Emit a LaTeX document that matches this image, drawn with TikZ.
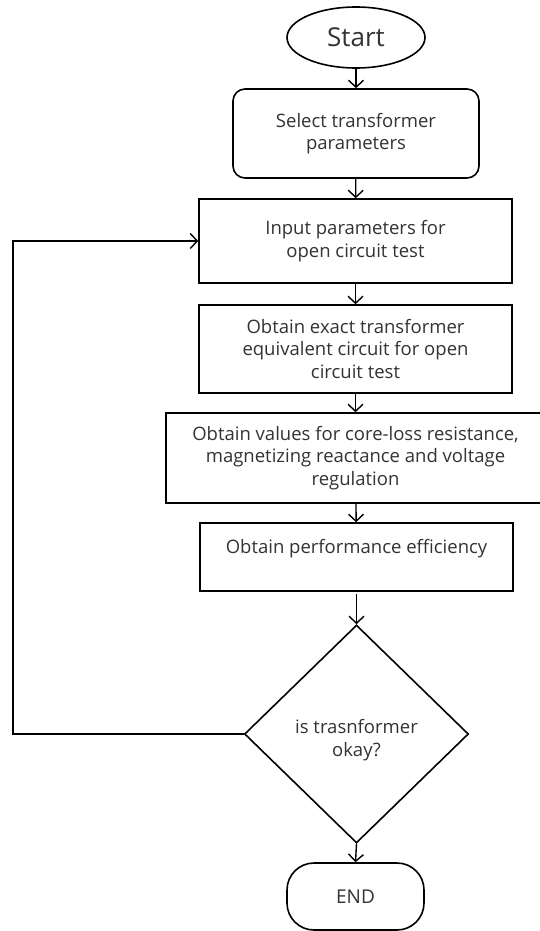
\documentclass[tikz,border=0pt]{standalone}
\usepackage{fontspec}
\setmainfont{Open Sans}
\usetikzlibrary{arrows.meta,shapes.geometric}
\definecolor{txtgray}{HTML}{333333}
\tikzset{
  base/.style={draw=black, line width=1.6pt, text=txtgray, align=center, inner sep=0pt, font=\fontsize{18.5}{22.5}\selectfont},
  procbox/.style={base, rectangle},
  roundbox/.style={base, rectangle, rounded corners=12pt},
  termbox/.style={base, rectangle, rounded corners=27pt},
  startell/.style={base, ellipse},
  decision/.style={base, diamond},
  plain/.style={text=txtgray, align=center, inner sep=0pt, font=\fontsize{18.5}{22.5}\selectfont},
  flow/.style={draw=black, line width=1.4pt, -{Straight Barb[length=7pt,width=15pt,line width=1.4pt]}}
}
\begin{document}
\begin{tikzpicture}[x=1pt,y=1pt]
\useasboundingbox (0,0) rectangle (539,-931);
\fill[white] (0,0) rectangle (539,-931);
\node[startell, minimum width=138pt, minimum height=61pt, font=\fontsize{26}{30}\selectfont] (start) at (356,-37.5) {Start};
\node[roundbox, minimum width=246pt, minimum height=89pt] (sel) at (356,-133.5) {Select transformer\\parameters};
\node[procbox, minimum width=313pt, minimum height=84pt] (inp) at (355.5,-241) {Input parameters for\\open circuit test};
\node[procbox, minimum width=313pt, minimum height=88pt] (exact) at (355.5,-349) {Obtain exact transformer\\equivalent circuit for open\\circuit test};
\node[procbox, minimum width=379pt, minimum height=90pt] (vals) at (355.5,-458) {Obtain values for core-loss resistance,\\magnetizing reactance and voltage\\regulation};
\node[procbox, minimum width=313pt, minimum height=68pt] (perf) at (356.5,-557) {};
\node[plain] (perft) at (356.5,-549) {Obtain performance efficiency};
\node[decision, minimum width=224pt, minimum height=218pt] (dec) at (356.5,-734) {};
\node[plain] (dect) at (356.5,-740) {is trasnformer\\okay?};
\node[termbox, minimum width=137pt, minimum height=67pt, font=\fontsize{19}{22}\selectfont] (end) at (355.5,-896.5) {END};
\coordinate (lft) at (13,-734);
\draw[flow] (start) -- (sel);
\draw[flow] (sel) -- (inp);
\draw[flow] (inp) -- (exact);
\draw[flow] (exact) -- (vals);
\draw[flow] (vals) -- (perf);
\draw[flow] ([yshift=-2pt]perf.south) -- (dec.north);
\draw[flow] (dec.south) -- (end.north);
\draw[flow] (dec.west) -- (lft) |- (inp.west);
\end{tikzpicture}
\end{document}
